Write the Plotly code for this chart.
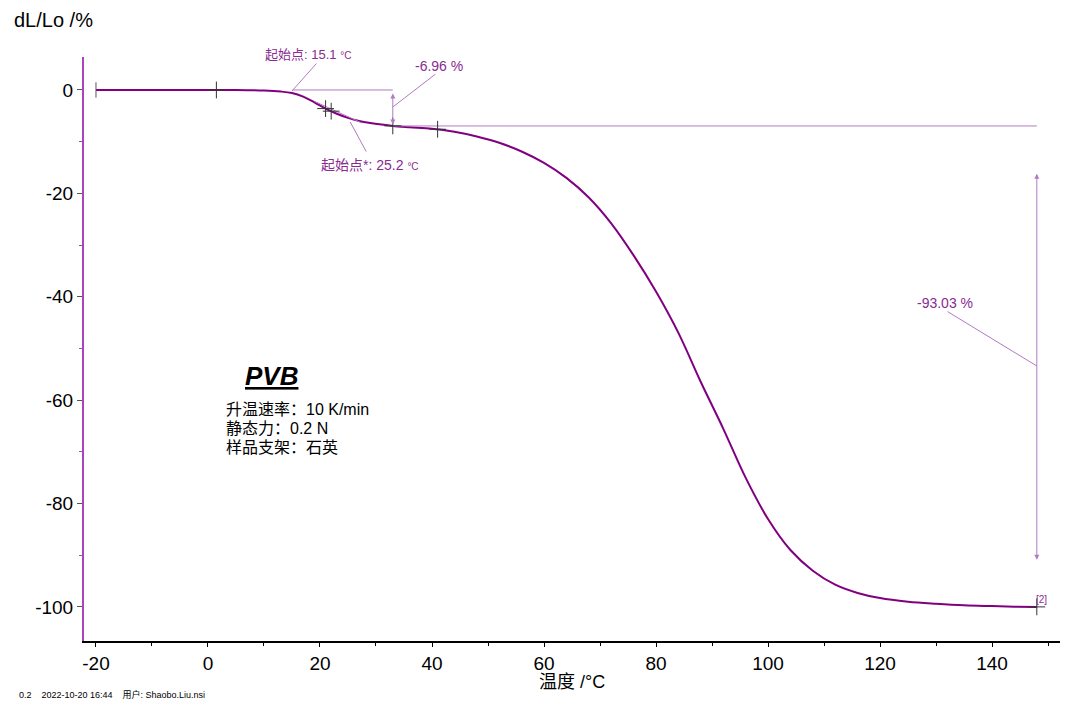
import plotly.graph_objects as go

# ---- data ----
temp = [-20, -10, 0, 5, 10, 13, 15, 17, 19, 21, 23, 25, 27, 29, 31, 33, 36, 40, 44, 48,
        52, 56, 60, 64, 68, 72, 76, 80, 84, 88, 92, 96, 100, 104, 108, 112, 116, 120,
        125, 130, 135, 140, 144, 148]
dl = [0, 0, 0, 0, -0.1, -0.3, -0.6, -1.3, -2.4, -3.6, -4.6, -5.4, -6.0, -6.4, -6.7, -6.95,
      -7.2, -7.5, -8.1, -9.0, -10.2, -11.9, -14.1, -17.0, -20.8, -25.8, -32.0, -39.0,
      -47.0, -56.5, -65.5, -75.0, -83.0, -89.0, -93.0, -95.7, -97.3, -98.3, -99.0,
      -99.4, -99.7, -99.85, -99.95, -100.0]

mark_t = [1.5, 21, 22, 33, 41, 148]
mark_v = [0, -3.6, -4.1, -6.95, -7.6, -100.0]
start_t = [-20]
start_v = [0]

onset1 = 15.1
onset2 = 25.2
step1 = -6.96
step2 = -93.03
step1_t = 33
end_t = 148

x_ticks = [-20, 0, 20, 40, 60, 80, 100, 120, 140]
x_labels = ["-20", "0", "20", "40", "60", "80", "100", "120", "140"]
y_ticks = [0, -20, -40, -60, -80, -100]
y_labels = ["0", "-20", "-40", "-60", "-80", "-100"]

CURVE = "#800080"
ANN = "#B27AC2"
TXT = "#8A2A92"
FONT = "Liberation Sans, Arial, Noto Sans CJK SC"

Y_RANGE = [-106.6, 6.38]

fig = go.Figure()
fig.add_trace(go.Scatter(x=temp, y=dl, mode="lines", line=dict(color=CURVE, width=2, shape="spline"),
                         showlegend=False, hoverinfo="skip"))

# baseline / step construction lines
fig.add_trace(go.Scatter(x=[onset1, step1_t], y=[0, 0], mode="lines",
                         line=dict(color=ANN, width=1), showlegend=False, hoverinfo="skip"))
fig.add_trace(go.Scatter(x=[step1_t, end_t], y=[step1, step1], mode="lines",
                         line=dict(color=ANN, width=1), showlegend=False, hoverinfo="skip"))
fig.add_trace(go.Scatter(x=[19, 27.5], y=[-2.2, -6.4], mode="lines",
                         line=dict(color=ANN, width=1), showlegend=False, hoverinfo="skip"))

# markers
fig.add_trace(go.Scatter(x=mark_t, y=mark_v, mode="markers",
                         marker=dict(symbol="cross-thin", size=12, line=dict(color="#333333", width=1)),
                         showlegend=False, hoverinfo="skip"))
fig.add_trace(go.Scatter(x=start_t, y=start_v, mode="markers",
                         marker=dict(symbol="line-ns", size=11, line=dict(color="#555555", width=1)),
                         showlegend=False, hoverinfo="skip"))

ann = []
def leader(x0, y0, x1, y1):
    ann.append(dict(x=x1, y=y1, ax=x0, ay=y0, xref="x", yref="y", axref="x", ayref="y",
                    showarrow=True, arrowhead=0, arrowwidth=1, arrowcolor=ANN, text=""))

def darrow(x, y0, y1):
    ann.append(dict(x=x, y=y1, ax=x, ay=y0, xref="x", yref="y", axref="x", ayref="y",
                    showarrow=True, arrowhead=2, startarrowhead=2, arrowside="end+start",
                    arrowsize=1, arrowwidth=1, arrowcolor=ANN, text=""))

def label(x, y, text, size=14, color=TXT, xanchor="center", yref="y"):
    ann.append(dict(x=x, y=y, xref="x", yref=yref, text=text, showarrow=False,
                    font=dict(size=size, color=color, family=FONT), xanchor=xanchor, yanchor="middle"))

def to_paper(v):
    return (v - Y_RANGE[0]) / (Y_RANGE[1] - Y_RANGE[0])

label(17.9, to_paper(6.8), f"起始点: {onset1} <span style='font-size:10px'>°C</span>", size=13, yref="paper")
leader(19.6, 5.4, onset1 - 0.1, -0.2)

label(41.25, 4.6, f"{step1} %")
leader(40.9, 3.3, step1_t, -3.3)
darrow(step1_t, -0.4, step1 + 0.3)

label(28.9, -14.5, f"起始点*: {onset2} <span style='font-size:10px'>°C</span>")
leader(28.4, -12.2, onset2 + 0.2, -6.2)

label(131.6, -41.2, f"{step2} %")
leader(131.8, -42.7, end_t, -53.4)
darrow(end_t, -15.9, -90.9)

label(148.75, -98.6, "[2]", size=10)

label(11.4, -55.3, "<b><i><u>PVB</u></i></b>", size=26, color="black")
label(2.9, -61.9, "升温速率：10 K/min", size=16, color="black", xanchor="left")
label(2.9, -65.5, "静态力：0.2 N", size=16, color="black", xanchor="left")
label(2.9, -69.2, "样品支架：石英", size=16, color="black", xanchor="left")

# axis titles and footer (paper coords)
ann.append(dict(x=0.5, y=-0.071, xref="paper", yref="paper", text="温度 /°C", showarrow=False,
                font=dict(size=18, color="black", family=FONT), xanchor="center", yanchor="middle"))
ann.append(dict(x=-0.0738, y=1.0634, xref="paper", yref="paper", text="dL/Lo /%", showarrow=False,
                font=dict(size=20, color="black", family=FONT), xanchor="left", yanchor="middle"))
ann.append(dict(x=-0.0686, y=-0.0908, xref="paper", yref="paper",
                text="0.2    2022-10-20 16:44    用户: Shaobo.Liu.nsi", showarrow=False,
                font=dict(size=9, color="black", family=FONT), xanchor="left", yanchor="middle"))

fig.update_layout(
    width=1080, height=704,
    margin=dict(l=84, r=20, t=57, b=63),
    paper_bgcolor="white", plot_bgcolor="white",
    annotations=ann,
    font=dict(family=FONT, color="black"),
    xaxis=dict(range=[-22.14, 152.14], tickvals=x_ticks, ticktext=x_labels, showgrid=False, zeroline=False,
               showline=True, linecolor="black", linewidth=2, ticks="outside", ticklen=4,
               tickcolor="black", tickfont=dict(size=19, family=FONT),
               minor=dict(dtick=10, tick0=0, ticks="outside", ticklen=3, tickcolor="black")),
    yaxis=dict(range=Y_RANGE, tickvals=y_ticks, ticktext=y_labels, showgrid=False, zeroline=False,
               showline=True, linecolor="#A845B8", linewidth=2, ticks="outside", ticklen=5,
               tickcolor="#555555", tickfont=dict(size=19, family=FONT),
               minor=dict(dtick=10, tick0=0, ticks="outside", ticklen=3, tickcolor="#A845B8")),
)

fig.write_html("out.html", config={"displayModeBar": False},
               post_script="document.body.style.margin='0';document.body.style.overflow='hidden';")
